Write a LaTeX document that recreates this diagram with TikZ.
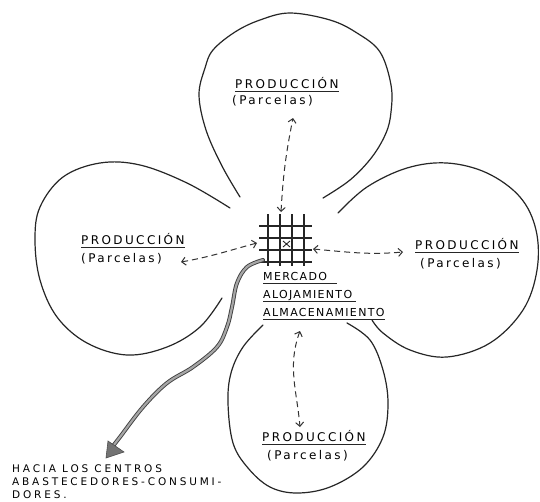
\documentclass[tikz,border=0pt]{standalone}
\usepackage{fontspec}
\newfontfamily\rotulo{DejaVu Sans}
\usetikzlibrary{arrows.meta}

\tikzset{
  petalo/.style={draw=black!85,line width=1.2pt,line cap=round},
  reja/.style={draw=black!85,line width=1.8pt},
  flecha/.style={draw=black!80,line width=1pt,dash pattern=on 6pt off 4pt,
    {Straight Barb[length=4pt,width=8pt]}-{Straight Barb[length=4pt,width=8pt]}},
  raya/.style={draw=black!85,line width=1pt},
  prodtxt/.style={font={\fontsize{12}{14}\rotulo\addfontfeature{LetterSpace=20}},inner sep=0pt,anchor=base west,text=black},
  centro/.style={font={\fontsize{11}{13}\rotulo\addfontfeature{LetterSpace=12}},inner sep=0pt,anchor=base west,text=black},
  nota/.style={font={\fontsize{10.5}{13}\rotulo\addfontfeature{LetterSpace=27}},inner sep=0pt,align=left,anchor=north west,text=black},
  via/.style={draw=black!75,double=black!35,line width=0.9pt,double distance=2.2pt,line cap=round}
}
\newcommand{\subraya}[2][0pt]{\draw[raya] ([yshift=-3pt]#2.base west) -- ([yshift=-3pt,xshift=#1]#2.base east);}

\begin{document}
\begin{tikzpicture}[x=1pt,y=-1pt]
  \useasboundingbox[fill=white] (0,0) rectangle (540,501);
  % petalos
  \draw[petalo] plot[smooth,tension=0.6] coordinates {(240,197) (222,166) (206,130) (199,95) (205,68) (213,50) (235,32) (260,20) (290,13) (330,20) (357,33) (380,52) (391,85) (391,112) (386,133) (372,157) (350,180) (323,198)};
  \draw[petalo] plot[smooth,tension=0.6] coordinates {(230,208) (187,183) (140,165) (100,163) (63,177) (40,207) (35,240) (40,280) (57,317) (87,343) (127,355) (167,347) (200,327) (222,298)};
  \draw[petalo] plot[smooth,tension=0.6] coordinates {(338,213) (367,187) (407,168) (447,163) (487,173) (520,197) (536,230) (537,270) (523,310) (490,343) (447,357) (410,350) (383,333) (372,320)};
  \draw[petalo] plot[smooth,tension=0.6] coordinates {(263,325) (243,347) (231,373) (228,403) (233,443) (248,468) (270,487) (297,493) (330,487) (363,467) (383,437) (388,403) (383,370) (370,340) (347,323)};

  % reja del mercado
  \foreach \x in {268,280,292,304}
    \draw[reja] (\x,214) -- (\x,266);
  \foreach \y in {226,238,250,262}
    \draw[reja] (259,\y) -- (312,\y);
  \draw[line width=0.9pt,black!85] (283,241) -- (290,247) (283,247) -- (290,241);

  % textos
  \node[prodtxt] (topP) at (235,88) {PRODUCCIÓN};
  \node[prodtxt] (topQ) at (232,104) {(Parcelas)};
  \node[prodtxt] (izqP) at (81,244) {PRODUCCIÓN};
  \node[prodtxt] (izqQ) at (81,262) {(Parcelas)};
  \node[prodtxt] (derP) at (415,249) {PRODUCCIÓN};
  \node[prodtxt] (derQ) at (420,267) {(Parcelas)};
  \node[prodtxt] (infP) at (262,441) {PRODUCCIÓN};
  \node[prodtxt] (infQ) at (267,459) {(Parcelas)};
  \node[centro] (merc) at (263,280) {MERCADO};
  \node[centro] (aloj) at (263,298) {ALOJAMIENTO};
  \node[centro] (alma) at (263,316) {ALMACENAMIENTO};
  \node[nota] (hacia) at (12,464) {HACIA LOS CENTROS\\ABASTECEDORES-CONSUMI-\\DORES.};
  \subraya{topP}
  \subraya{izqP}
  \subraya{derP}
  \subraya{infP}
  \subraya[10pt]{merc}
  \subraya[4pt]{aloj}
  \subraya{alma}

  % extremos de las flechas
  \coordinate (gN) at (281,212);
  \coordinate (gO) at (257,243);
  \coordinate (gE) at (313,249);
  \coordinate (gS) at (300,331);
  \coordinate (tN) at (293,118);
  \coordinate (tO) at (181,262);
  \coordinate (tE) at (403,252);
  \coordinate (tS) at (300,427);
  \draw[flecha] (gN) to[bend left=4] (tN);
  \draw[flecha] (gO) to[out=195,in=10] (tO);
  \draw[flecha] (gE) to[out=-5,in=185] (tE);
  \draw[flecha] (gS) to[out=-110,in=95] (tS);

  % salida hacia los centros
  \coordinate (sal) at (263,260);
  \coordinate (pun) at (113,446);
  \draw[via] plot[smooth,tension=0.6] coordinates {(sal) (247,267) (237,283) (232,307) (227,327) (217,347) (193,367) (167,383) (143,407) (120,437) (pun)};
  \fill[black!55,draw=black!70,line width=0.6pt] (106,458) -- (108,441) -- (124,452) -- cycle;
\end{tikzpicture}
\end{document}
